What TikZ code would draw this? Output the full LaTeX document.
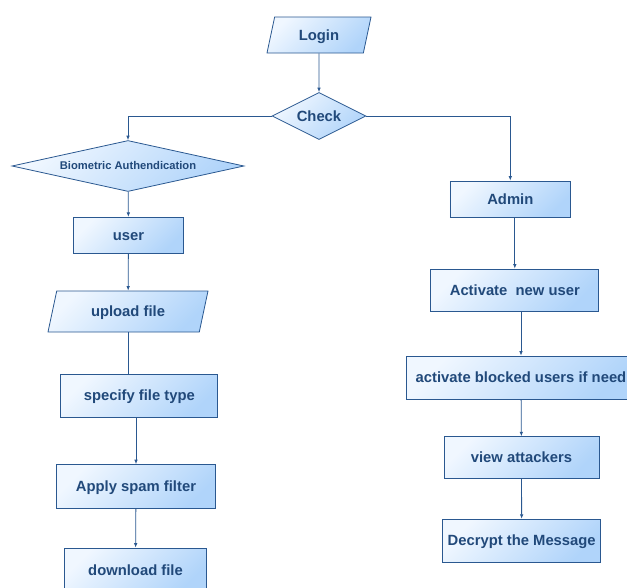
\documentclass[tikz,border=0pt]{standalone}
\usepackage{fontspec}
\setmainfont{Liberation Sans}
\usepackage{tikz}
\usetikzlibrary{arrows, arrows.meta}
\usetikzlibrary{graphs}
\usetikzlibrary{shapes.geometric}
\definecolor{flowline}{HTML}{2A5890}
\definecolor{flowtext}{HTML}{21497A}
\definecolor{flowlight}{HTML}{F0F7FF}
\definecolor{flowdark}{HTML}{B0D4FA}
\tikzstyle{box}=[rectangle, draw=flowline, line width=0.8pt, top color=flowlight, bottom color=flowdark, shading angle=45, text=flowtext, font=\fontsize{14.8}{16}\selectfont\bfseries, text height=12pt, text depth=2pt, inner sep=0pt]
\tikzset{
    io/.style={box, trapezium, trapezium left angle=78, trapezium right angle=102, trapezium stretches body},
    decision/.style={box, diamond},
    down from/.style={to path={(\tikztostart.south) -- (\tikztostart.south |- \tikztotarget.north)}},
    down to/.style={to path={(\tikztostart.south -| \tikztotarget.north) -- (\tikztotarget.north)}}
}

\begin{document}
\begin{tikzpicture}[x=1pt, y=-1pt, new set=import nodes, >={Latex[length=4.5pt,width=3.6pt]},
  every edge/.style={draw=flowline, line width=0.8pt}]
 \useasboundingbox (0,0) rectangle (627,587);
 \begin{scope}[nodes={set=import nodes}]

      \node (login)[io, minimum width=104pt, minimum height=36pt, inner ysep=11pt] at (319,35) {Login};
      \node (check)[decision, aspect=2, minimum width=94pt, minimum height=47pt] at (319,116) {Check};

      %%%%%%%% user side %%%%%%%%
      \node (bio)[decision, aspect=4.5, minimum width=232pt, minimum height=51pt, font=\fontsize{11.2}{13}\selectfont\bfseries, text height=8.6pt, text depth=2pt] at (128,166) {Biometric Authendication};
      \node (user)[box, minimum width=110pt, minimum height=36pt] at (128.5,235.3) {user};
      \node (upload)[io, minimum width=160pt, minimum height=41pt, inner ysep=13.5pt] at (128,311.5) {upload file};
      \node (specify)[box, minimum width=157pt, minimum height=43pt] at (139.3,395.7) {specify file type};
      \node (apply)[box, minimum width=158.7pt, minimum height=44pt] at (136,486.5) {Apply spam filter};
      \node (download)[box, minimum width=142pt, minimum height=44pt] at (135.5,570) {download file};

      %%%%%%%% admin side %%%%%%%%
      \node (admin)[box, minimum width=120.7pt, minimum height=36pt] at (510.3,199) {Admin};
      \node (activate)[box, minimum width=168pt, minimum height=42pt] at (514.8,290) {Activate\ \ new user};
      \node (blocked)[box, minimum width=229pt, minimum height=43pt] at (521,377.5) {activate blocked users if need};
      \node (view)[box, minimum width=155pt, minimum height=42pt] at (521.5,457.7) {view attackers};
      \node (decrypt)[box, minimum width=158pt, minimum height=43pt] at (521.7,540.7) {Decrypt the Message};

  \end{scope}

 \graph {
    (import nodes);

    login -> check,
    check ->[to path={-| (\tikztotarget)}] {bio, admin},

    % user
    bio -> user -> upload,
    upload --[down from] specify,
    specify ->[down to] apply -> download,

    % admin
    admin ->[down to] activate ->[down to] blocked -> view -> decrypt,
    };

\end{tikzpicture}
\end{document}
